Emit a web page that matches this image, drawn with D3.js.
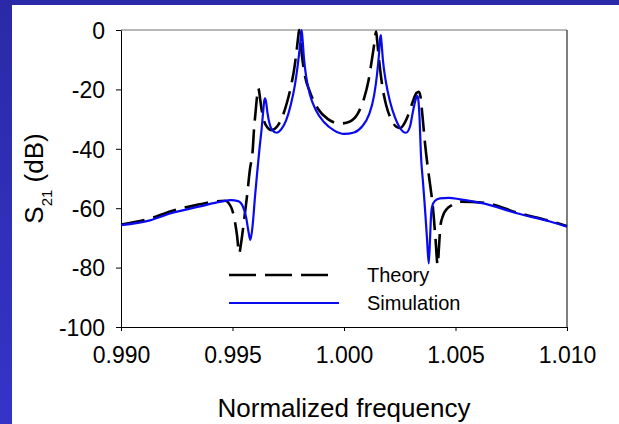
<!DOCTYPE html>
<html lang="en">
<head>
<meta charset="utf-8">
<title>S21 vs normalized frequency</title>
<script src="https://d3js.org/d3.v7.min.js"></script>
<style>
  body { margin: 0; background: #fff; }
  svg text { font-family: Arial, "Liberation Sans", sans-serif; fill: #000; }
</style>
</head>
<body>
<script>
// data
const theoryFreq = [0.99000, 0.99130, 0.99224, 0.99354, 0.99422, 0.99466, 0.99493, 0.99507, 0.99520, 0.99530,
  0.99538, 0.99552, 0.99565, 0.99578, 0.99591, 0.99596, 0.99603, 0.99610, 0.99616, 0.99621,
  0.99628, 0.99641, 0.99659, 0.99676, 0.99700, 0.99722, 0.99744, 0.99762, 0.99778, 0.99789,
  0.99796, 0.99799, 0.99803, 0.99812, 0.99825, 0.99848, 0.99883, 0.99928, 0.99982, 1.00027,
  1.00063, 1.00090, 1.00110, 1.00123, 1.00135, 1.00141, 1.00144, 1.00148, 1.00157, 1.00170,
  1.00188, 1.00211, 1.00233, 1.00251, 1.00274, 1.00291, 1.00309, 1.00325, 1.00336, 1.00343,
  1.00352, 1.00363, 1.00377, 1.00386, 1.00399, 1.00410, 1.00420, 1.00426, 1.00432, 1.00444,
  1.00462, 1.00484, 1.00520, 1.00632, 1.00776, 1.00924, 1.01000];
const theoryS21 = [-65.5, -63.5, -61, -58.7, -57.7, -57.5, -59.5, -63, -69, -75.2,
  -72, -64, -56, -47, -40, -34, -28, -22.5, -19.6, -21.5,
  -25.5, -30.5, -33, -33.7, -32.5, -29.5, -24.5, -19, -12.5, -6,
  -1.5, 0, -2.5, -9, -15.5, -21, -26.5, -30, -31.5, -30.8,
  -28, -23, -17, -11, -5, -1.5, -0.5, -3, -10, -18,
  -25, -30, -32.5, -33, -31, -28, -24, -21.2, -20.8, -22.5,
  -29, -38, -47, -52, -60, -70, -79.1, -73, -66.2, -62.5,
  -60.2, -59, -57.8, -58.2, -61.5, -64.3, -66];

const simFreq = [0.99000, 0.99130, 0.99224, 0.99354, 0.99448, 0.99493, 0.99525, 0.99547, 0.99561, 0.99572,
  0.99580, 0.99590, 0.99601, 0.99610, 0.99621, 0.99631, 0.99637, 0.99642, 0.99646, 0.99650,
  0.99657, 0.99666, 0.99677, 0.99698, 0.99717, 0.99740, 0.99762, 0.99780, 0.99794, 0.99803,
  0.99808, 0.99810, 0.99814, 0.99821, 0.99830, 0.99848, 0.99874, 0.99910, 0.99955, 1.00000,
  1.00045, 1.00081, 1.00112, 1.00135, 1.00148, 1.00157, 1.00161, 1.00165, 1.00168, 1.00175,
  1.00188, 1.00206, 1.00229, 1.00251, 1.00278, 1.00296, 1.00309, 1.00321, 1.00329, 1.00334,
  1.00339, 1.00345, 1.00354, 1.00363, 1.00372, 1.00380, 1.00386, 1.00390, 1.00395, 1.00408,
  1.00430, 1.00470, 1.00520, 1.00626, 1.00776, 1.00924, 1.01000];
const simS21 = [-65.7, -64.1, -61.7, -59.4, -57.8, -57.3, -57.6, -59.5, -63, -68,
  -70.7, -66, -56, -48.5, -40, -33, -28, -24, -23, -24,
  -28, -31.5, -33.6, -34.6, -33.6, -30.5, -25, -18.5, -11, -5,
  -1, 0, -3, -10, -15.5, -22, -27, -31, -33.8, -35,
  -34.5, -32.5, -28.5, -22, -15, -8, -3.5, -1.7, -4, -10.5,
  -17.5, -24, -29.5, -33, -34.6, -32.5, -27.5, -23.5, -22.2, -24,
  -30, -42, -51, -60, -70, -78.6, -70, -63, -59.5, -57.5,
  -56.7, -56.5, -57, -58.4, -61.7, -64.5, -66.2];

const xTicks = [0.990, 0.995, 1.000, 1.005, 1.010];
const yTicks = [0, -20, -40, -60, -80, -100];
const seriesNames = ["Theory", "Simulation"];

const width = 619, height = 424;
const margin = {left: 121, right: 52, top: 30, bottom: 97};

const svg = d3.select("body").append("svg")
  .attr("width", width)
  .attr("height", height);

// slide background: blue strips on top and left
const grad = svg.append("defs").append("linearGradient")
  .attr("id", "side").attr("x1", 0).attr("y1", 0).attr("x2", 0).attr("y2", 1);
grad.append("stop").attr("offset", "0%").attr("stop-color", "#2a2aa8");
grad.append("stop").attr("offset", "100%").attr("stop-color", "#3434c8");
svg.append("rect").attr("width", width).attr("height", height).attr("fill", "url(#side)");
svg.append("rect").attr("x", 12).attr("y", 5).attr("width", width - 12).attr("height", height - 5).attr("fill", "#fff");

const x = d3.scaleLinear().domain([0.990, 1.010]).range([margin.left, width - margin.right]);
const y = d3.scaleLinear().domain([-100, 0]).range([height - margin.bottom, margin.top]);

// frame
svg.append("line")
  .attr("x1", x(0.990)).attr("x2", x(1.010)).attr("y1", y(0)).attr("y2", y(0))
  .attr("stroke", "#707070");
svg.append("line")
  .attr("x1", x(1.010)).attr("x2", x(1.010)).attr("y1", y(0)).attr("y2", y(-100))
  .attr("stroke", "#000");

const xAxis = svg.append("g")
  .attr("transform", `translate(0,${y(-100)})`)
  .call(d3.axisBottom(x).tickValues(xTicks).tickFormat(d3.format(".3f")).tickSize(4).tickSizeOuter(0));
const yAxis = svg.append("g")
  .attr("transform", `translate(${x(0.990)},0)`)
  .call(d3.axisLeft(y).tickValues(yTicks).tickFormat(d => String(d)).tickSize(5).tickSizeOuter(0));

[xAxis, yAxis].forEach(a => {
  a.selectAll("path, line").attr("stroke", "#000");
  a.selectAll("text").attr("font-size", 23).attr("font-family", null);
});
xAxis.selectAll("text").attr("dy", null).attr("y", 36);
yAxis.selectAll("text").attr("x", -16).attr("dy", "0.36em");

// curves
const line = d3.line()
  .x(d => x(d[0]))
  .y(d => y(d[1]))
  .curve(d3.curveMonotoneX);

const theory = theoryFreq.map((f, i) => [f, theoryS21[i]]);
const sim = simFreq.map((f, i) => [f, simS21[i]]);

svg.append("path")
  .datum(theory)
  .attr("d", line)
  .attr("fill", "none")
  .attr("stroke", "#000")
  .attr("stroke-width", 2.6)
  .attr("stroke-dasharray", "24,9");

svg.append("path")
  .datum(sim)
  .attr("d", line)
  .attr("fill", "none")
  .attr("stroke", "#0a0af0")
  .attr("stroke-width", 2.2);

// legend
const legend = svg.append("g");
legend.append("line")
  .attr("x1", 229).attr("x2", 329).attr("y1", 275).attr("y2", 275)
  .attr("stroke", "#000").attr("stroke-width", 2.6).attr("stroke-dasharray", "27,9");
legend.append("line")
  .attr("x1", 229).attr("x2", 339).attr("y1", 303).attr("y2", 303)
  .attr("stroke", "#0a0af0").attr("stroke-width", 2.2);
legend.selectAll("text.leg")
  .data(seriesNames)
  .join("text")
  .attr("class", "leg")
  .attr("x", 367)
  .attr("y", (d, i) => 282 + i * 28)
  .attr("font-size", 20)
  .text(d => d);

// axis titles
svg.append("text")
  .attr("x", (x(0.990) + x(1.010)) / 2)
  .attr("y", 417)
  .attr("text-anchor", "middle")
  .attr("font-size", 26)
  .text("Normalized frequency");

const yt = svg.append("text")
  .attr("transform", `translate(43,${(y(0) + y(-100)) / 2}) rotate(-90)`)
  .attr("text-anchor", "middle")
  .attr("font-size", 26);
yt.append("tspan").text("S");
yt.append("tspan").attr("font-size", 15).attr("dy", 9).text("21");
yt.append("tspan").attr("dy", -9).text(" (dB)");
</script>
</body>
</html>
